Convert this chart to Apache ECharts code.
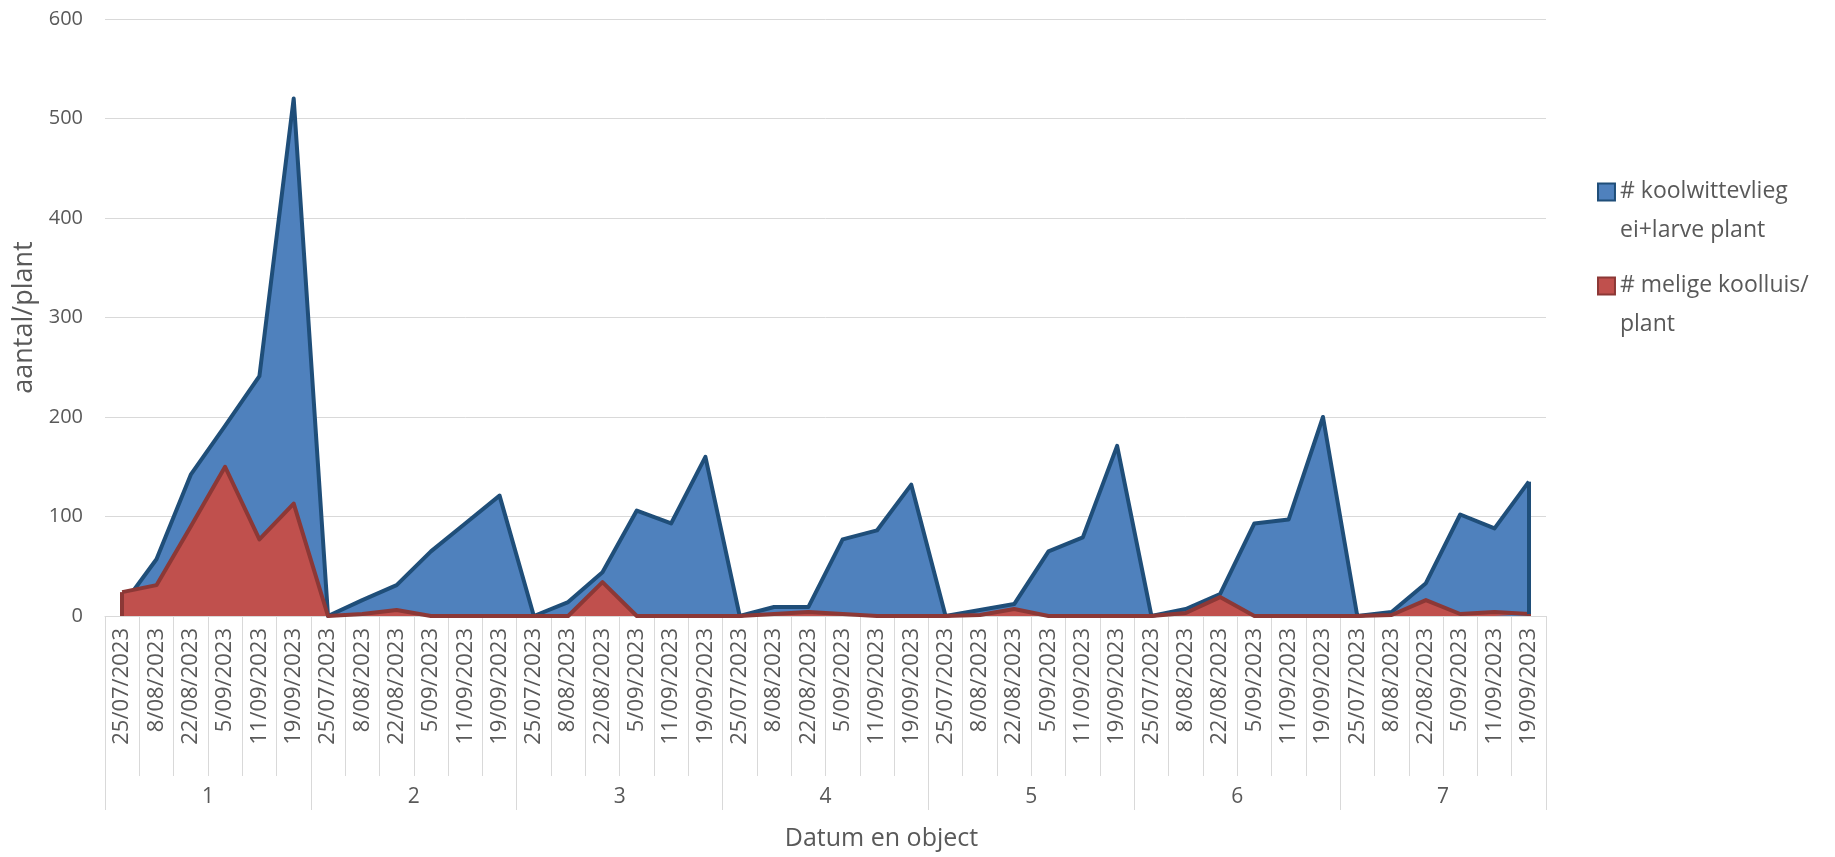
<!DOCTYPE html>
<html>
<head>
<meta charset="utf-8">
<script src="https://cdn.jsdelivr.net/npm/echarts@6/dist/echarts.min.js"></script>
<style>
  html, body { margin: 0; padding: 0; background: #ffffff; }
  #chart { width: 1835px; height: 857px; }
</style>
</head>
<body>
<div id="chart"></div>
<script>
// ---- data ----
const groups = ['1', '2', '3', '4', '5', '6', '7'];
const dates = ['25/07/2023', '8/08/2023', '22/08/2023', '5/09/2023', '11/09/2023', '19/09/2023'];
const seriesNames = ['# koolwittevlieg ei+larve plant', '# melige koolluis/ plant'];
const legendLines = {
  '# koolwittevlieg ei+larve plant': '# koolwittevlieg\nei+larve plant',
  '# melige koolluis/ plant': '# melige koolluis/\nplant'
};
const koolwittevlieg = [
  10, 57, 142, 191, 241, 520,
  0, 16, 31, 65, 93, 121,
  0, 14, 44, 106, 93, 160,
  0, 9, 9, 77, 86, 132,
  0, 6, 12, 65, 79, 171,
  0, 7, 22, 93, 97, 200,
  0, 4, 33, 102, 88, 135
];
const koolluis = [
  24, 31, 90, 150, 77, 113,
  0, 2, 6, 0, 0, 0,
  0, 0, 34, 0, 0, 0,
  0, 2, 4, 2, 0, 0,
  0, 1, 7, 0, 0, 0,
  0, 3, 19, 0, 0, 0,
  0, 1, 16, 2, 4, 2
];
const yTicks = { min: 0, max: 600, interval: 100 };

// categories: each group repeats the dates
const categories = [];
groups.forEach(() => dates.forEach(d => categories.push(d)));
const lastIdx = categories.length - 1;

const FONT = 'Open Sans';
const TXT = '#595959';
const GRID = '#d9d9d9';
const BLUE = '#4f81bd', BLUE_LINE = '#1f4e79';
const RED = '#c0504d', RED_LINE = '#8c3836';
const LW = 4;

// vertical closing edges of each area (Excel outlines the full polygon)
function edges(values, color) {
  return {
    silent: true,
    symbol: ['none', 'none'],
    label: { show: false },
    lineStyle: { color: color, width: LW, type: 'solid' },
    data: [
      [{ coord: [0, 0] }, { coord: [0, values[0]] }],
      [{ coord: [lastIdx, 0] }, { coord: [lastIdx, values[lastIdx]] }]
    ]
  };
}

const chart = echarts.init(document.getElementById('chart'), null, { renderer: 'canvas' });
chart.setOption({
  backgroundColor: '#ffffff',
  animation: false,
  textStyle: { fontFamily: FONT },
  grid: { left: 105, right: 289, top: 19, bottom: 241, containLabel: false },
  legend: {
    orient: 'vertical',
    left: 1592,
    top: 167,
    itemWidth: 17,
    itemHeight: 55,
    itemGap: 16,
    icon: 'path://M0,0L10,0L10,10L0,10Z M0,32.4',
    data: [
      { name: seriesNames[0], itemStyle: { color: BLUE, borderColor: BLUE_LINE, borderWidth: 2 } },
      { name: seriesNames[1], itemStyle: { color: RED, borderColor: RED_LINE, borderWidth: 2 } }
    ],
    formatter: n => legendLines[n],
    textStyle: { fontFamily: FONT, fontSize: 23, color: TXT, lineHeight: 39 }
  },
  xAxis: [
    {
      type: 'category',
      data: categories,
      boundaryGap: true,
      axisLine: { show: true, lineStyle: { color: GRID, width: 1 } },
      axisTick: { show: true, interval: 0, length: 160, lineStyle: { color: GRID, width: 1 } },
      axisLabel: { interval: 0, rotate: 90, margin: 12, fontSize: 22, color: TXT, fontFamily: FONT },
      splitLine: { show: false }
    },
    {
      type: 'category',
      data: groups,
      position: 'bottom',
      offset: 0,
      boundaryGap: true,
      axisLine: { show: false },
      axisTick: { show: true, interval: 0, length: 194, lineStyle: { color: GRID, width: 1 } },
      axisLabel: { interval: 0, margin: 171, fontSize: 21, color: TXT, fontFamily: FONT },
      name: 'Datum en object',
      nameLocation: 'middle',
      nameGap: 210,
      nameTextStyle: { fontSize: 25, color: TXT, fontFamily: FONT, padding: [0, 0, 0, 112] }
    }
  ],
  yAxis: {
    type: 'value',
    min: yTicks.min,
    max: yTicks.max,
    interval: yTicks.interval,
    axisLine: { show: false },
    axisTick: { show: false },
    axisLabel: { margin: 22, fontSize: 20, color: TXT, fontFamily: FONT },
    splitLine: { show: true, lineStyle: { color: GRID, width: 1 } },
    name: 'aantal/plant',
    nameLocation: 'middle',
    nameRotate: 90,
    nameGap: 65,
    nameTextStyle: { fontSize: 27, color: TXT, fontFamily: FONT }
  },
  series: [
    {
      name: seriesNames[0],
      type: 'line',
      xAxisIndex: 0,
      data: koolwittevlieg,
      symbol: 'none',
      lineStyle: { color: BLUE_LINE, width: LW, join: 'round' },
      itemStyle: { color: BLUE },
      areaStyle: { color: BLUE, opacity: 1 },
      markLine: edges(koolwittevlieg, BLUE_LINE),
      z: 2
    },
    {
      name: seriesNames[1],
      type: 'line',
      xAxisIndex: 0,
      data: koolluis,
      symbol: 'none',
      lineStyle: { color: RED_LINE, width: LW, join: 'round' },
      itemStyle: { color: RED },
      areaStyle: { color: RED, opacity: 1 },
      markLine: edges(koolluis, RED_LINE),
      z: 3
    }
  ]
});
</script>
</body>
</html>
